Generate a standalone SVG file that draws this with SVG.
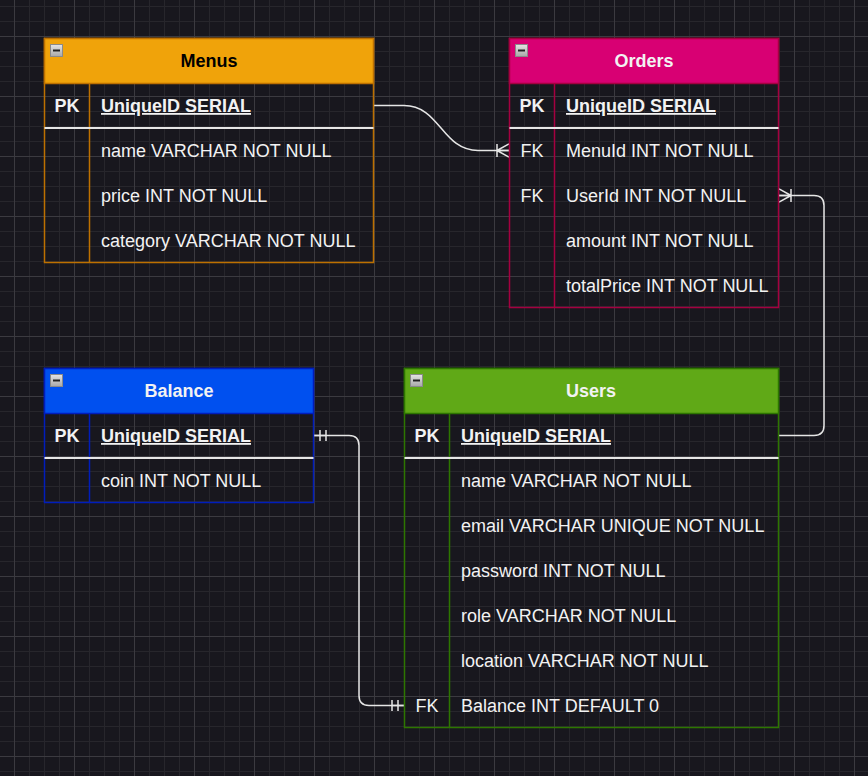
<svg xmlns="http://www.w3.org/2000/svg" width="868" height="776" viewBox="0 0 868 776">
<defs>
<pattern id="grid" x="14" y="36" width="60" height="60" patternUnits="userSpaceOnUse">
<path d="M15.5 0V60M30.5 0V60M45.5 0V60M0 15.5H60M0 30.5H60M0 45.5H60" stroke="#27262c" stroke-width="1" fill="none"/>
<path d="M0.5 0V60M0 0.5H60" stroke="#3b3a40" stroke-width="1" fill="none"/>
</pattern>
<linearGradient id="ic" x1="0" y1="0" x2="0" y2="1">
<stop offset="0" stop-color="#e4e4e4"/>
<stop offset="1" stop-color="#a8a8a8"/>
</linearGradient>
<marker id="many" markerUnits="userSpaceOnUse" markerWidth="16" markerHeight="18" refX="14" refY="8" orient="auto" viewBox="0 0 16 16">
<path d="M2 8L14 1.3M2 8L14 14.7M2 8H14M2 1.5V14.5" fill="none" stroke="#e6e6e6" stroke-width="1.5"/>
</marker>
<marker id="one" markerUnits="userSpaceOnUse" markerWidth="16" markerHeight="16" refX="14" refY="8" orient="auto-start-reverse" viewBox="0 0 16 16">
<path d="M2 2.5V13.5M8 2.5V13.5M2 8H14" fill="none" stroke="#e6e6e6" stroke-width="1.5"/>
</marker>
</defs>
<style>
text{font-family:"Liberation Sans",Arial,sans-serif;font-size:18px;fill:#f2f2f2}
.h{font-weight:bold;text-anchor:middle}
.k{text-anchor:middle}
.b{font-weight:bold}
.u{font-weight:bold;text-decoration:underline}
.sep{stroke:#e6e6e6;stroke-width:2}
.icon{fill:url(#ic);stroke:#8a8a8a;stroke-width:1}
.minus{stroke:#222;stroke-width:2}
.edge{fill:none;stroke:#e6e6e6;stroke-width:1.5}
</style>
<rect width="868" height="776" fill="#18171e"/>
<rect width="868" height="776" fill="url(#grid)"/>

<g id="connectors">
<path class="edge" d="M374 105.5H404C440 105.5 442 150.5 478 150.5H509" marker-end="url(#many)"/>
<path class="edge" d="M779 435.5H814Q824 435.5 824 425.5V205.5Q824 195.5 814 195.5H779" marker-end="url(#many)"/>
<path class="edge" d="M314 435.5H349Q359 435.5 359 445.5V695.5Q359 705.5 369 705.5H404" marker-start="url(#one)" marker-end="url(#one)"/>
</g>

<g id="menus">
<rect x="44.5" y="38.5" width="329" height="224" fill="none" stroke="#bd7000" stroke-width="1.5"/>
<rect x="44.5" y="38.5" width="329" height="45" fill="#f0a30a" stroke="#bd7000" stroke-width="1.5"/>
<line x1="89.5" y1="83.5" x2="89.5" y2="262.5" stroke="#bd7000" stroke-width="1.5"/>
<line class="sep" x1="44.5" y1="128" x2="373.5" y2="128"/>
<rect class="icon" x="50.5" y="44.5" width="12" height="12"/>
<line class="minus" x1="53" y1="50.5" x2="60" y2="50.5"/>
<text class="h" x="209" y="67" style="fill:#000">Menus</text>
<text class="k b" x="67" y="112">PK</text>
<text class="u" x="101" y="112">UniqueID SERIAL</text>
<text x="101" y="157">name VARCHAR NOT NULL</text>
<text x="101" y="202">price INT NOT NULL</text>
<text x="101" y="247">category VARCHAR NOT NULL</text>
</g>

<g id="orders">
<rect x="509.5" y="38.5" width="269" height="269" fill="none" stroke="#a50040" stroke-width="1.5"/>
<rect x="509.5" y="38.5" width="269" height="45" fill="#d80073" stroke="#a50040" stroke-width="1.5"/>
<line x1="554.5" y1="83.5" x2="554.5" y2="307.5" stroke="#a50040" stroke-width="1.5"/>
<line class="sep" x1="509.5" y1="128" x2="778.5" y2="128"/>
<rect class="icon" x="515.5" y="44.5" width="12" height="12"/>
<line class="minus" x1="518" y1="50.5" x2="525" y2="50.5"/>
<text class="h" x="644" y="67">Orders</text>
<text class="k b" x="532" y="112">PK</text>
<text class="u" x="566" y="112">UniqueID SERIAL</text>
<text class="k" x="532" y="157">FK</text>
<text x="566" y="157">MenuId INT NOT NULL</text>
<text class="k" x="532" y="202">FK</text>
<text x="566" y="202">UserId INT NOT NULL</text>
<text x="566" y="247">amount INT NOT NULL</text>
<text x="566" y="292">totalPrice INT NOT NULL</text>
</g>

<g id="balance">
<rect x="44.5" y="368.5" width="269" height="134" fill="none" stroke="#001dbc" stroke-width="1.5"/>
<rect x="44.5" y="368.5" width="269" height="45" fill="#0050ef" stroke="#001dbc" stroke-width="1.5"/>
<line x1="89.5" y1="413.5" x2="89.5" y2="502.5" stroke="#001dbc" stroke-width="1.5"/>
<line class="sep" x1="44.5" y1="458" x2="313.5" y2="458"/>
<rect class="icon" x="50.5" y="374.5" width="12" height="12"/>
<line class="minus" x1="53" y1="380.5" x2="60" y2="380.5"/>
<text class="h" x="179" y="397">Balance</text>
<text class="k b" x="67" y="442">PK</text>
<text class="u" x="101" y="442">UniqueID SERIAL</text>
<text x="101" y="487">coin INT NOT NULL</text>
</g>

<g id="users">
<rect x="404.5" y="368.5" width="374" height="359" fill="none" stroke="#2d7600" stroke-width="1.5"/>
<rect x="404.5" y="368.5" width="374" height="45" fill="#60a917" stroke="#2d7600" stroke-width="1.5"/>
<line x1="449.5" y1="413.5" x2="449.5" y2="727.5" stroke="#2d7600" stroke-width="1.5"/>
<line class="sep" x1="404.5" y1="458" x2="778.5" y2="458"/>
<rect class="icon" x="410.5" y="374.5" width="12" height="12"/>
<line class="minus" x1="413" y1="380.5" x2="420" y2="380.5"/>
<text class="h" x="591" y="397">Users</text>
<text class="k b" x="427" y="442">PK</text>
<text class="u" x="461" y="442">UniqueID SERIAL</text>
<text x="461" y="487">name VARCHAR NOT NULL</text>
<text x="461" y="532">email VARCHAR UNIQUE NOT NULL</text>
<text x="461" y="577">password INT NOT NULL</text>
<text x="461" y="622">role VARCHAR NOT NULL</text>
<text x="461" y="667">location VARCHAR NOT NULL</text>
<text class="k" x="427" y="712">FK</text>
<text x="461" y="712">Balance INT DEFAULT 0</text>
</g>
</svg>
